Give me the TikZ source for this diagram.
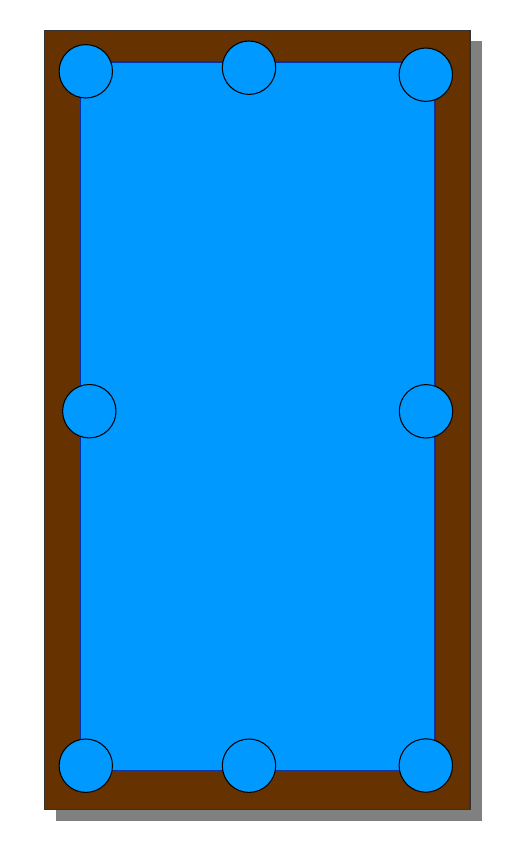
\documentclass[tikz,border=0pt]{standalone}
\usepackage{xcolor}
\usepackage{tikz}
\definecolor{railbrown}{RGB}{102,51,0}
\definecolor{feltblue}{RGB}{0,153,255}
\definecolor{feltedge}{RGB}{0,51,170}
\definecolor{shadowgray}{RGB}{128,128,128}
\newcommand{\pocket}[2]{%
  \draw[fill=feltblue, draw=black, line width=0.6pt] (#1,#2) circle (26.7);}

\begin{document}
\begin{tikzpicture}[x=0.02cm, y=-0.02cm]
  \useasboundingbox (0,0) rectangle (514,852);
  \fill[shadowgray] (55.5,40.7) rectangle (481.5,821);
  \draw[fill=railbrown, draw=black!80, line width=0.6pt] (44.7,30.7) rectangle (470,809.3);
  \draw[fill=feltblue, draw=feltedge, line width=0.6pt] (80.7,62) rectangle (435,770.7);
  \pocket{85.8}{71.3}
  \pocket{249}{67.7}
  \pocket{425.8}{74.7}
  \pocket{89.3}{411.2}
  \pocket{426}{411.3}
  \pocket{85.8}{765.7}
  \pocket{249}{765.7}
  \pocket{425.8}{765.5}
\end{tikzpicture}
\end{document}
